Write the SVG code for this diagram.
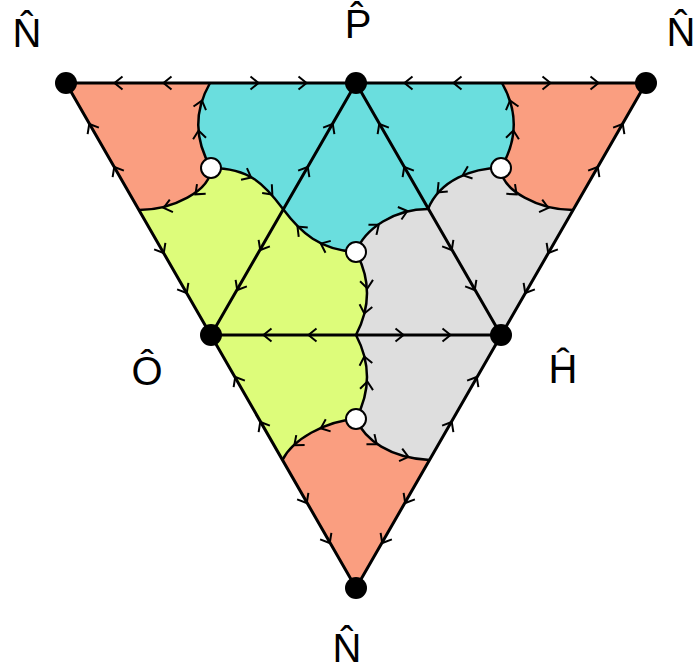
<svg xmlns="http://www.w3.org/2000/svg" xmlns:xlink="http://www.w3.org/1999/xlink" width="694" height="671" viewBox="0 0 694 671">
<style>
.salmon{fill:#FA9E80}
.cyan{fill:#6ADEDE}
.green{fill:#DDFC7A}
.gray{fill:#DEDEDE}
.edge{stroke:#000;stroke-width:3;fill:none;stroke-linecap:round}
.curve{stroke:#000;stroke-width:2.5;fill:none}
.dot{fill:#000}
.hole{fill:#fff;stroke:#000;stroke-width:2}
.lbl{font-family:"Liberation Sans",Arial,sans-serif;font-size:40px;fill:#000;text-anchor:middle}
</style>
<defs>
<path id="ar" d="M-4.5,-6.5 L3.5,0 L-4.5,6.5" fill="none" stroke="#000" stroke-width="2"/>
</defs>
<g id="regions">
<path class="salmon" d="M66,83 L210,83 Q186,125 211,168 C211,191 172,210 139,210 Z"/>
<path class="salmon" d="M646,83 L502,83 Q526,125 501,168 C501,191 540,210 573,210 Z"/>
<path class="cyan" d="M210,83 L502,83 Q526,125 501,168 C472,168 440,180 428,209 C395,209 365,228 356,252 C320,250 301,233 283,209 C265,185 250,168 211,168 Q186,125 210,83 Z"/>
<path class="green" d="M139,210 L282.5,460 C292,440 325,421 356,419 Q378,377 356,335 Q378,293 356,252 C320,250 301,233 283,209 C265,185 250,168 211,168 C211,191 172,210 139,210 Z"/>
<path class="gray" d="M573,210 L429.5,460 C390,458 365,440 356,419 Q378,377 356,335 Q378,293 356,252 C365,228 395,209 428,209 C440,180 472,168 501,168 C501,191 540,210 573,210 Z"/>
<path class="salmon" d="M282.5,460 L356,588 L429.5,460 C390,458 365,440 356,419 C325,421 292,440 282.5,460 Z"/>
</g>
<g id="connectors">
<path class="edge" d="M66,83 L646,83 L356,588 Z"/>
<path class="edge" d="M356,83 L211,335 L501,335 Z"/>
<path class="curve" d="M210,83 Q186,125 211,168"/>
<path class="curve" d="M502,83 Q526,125 501,168"/>
<path class="curve" d="M211,168 C211,191 172,210 139,210"/>
<path class="curve" d="M501,168 C501,191 540,210 573,210"/>
<path class="curve" d="M211,168 C250,168 265,185 283,209 C301,233 320,250 356,252"/>
<path class="curve" d="M501,168 C472,168 440,180 428,209"/>
<path class="curve" d="M356,252 C365,228 395,209 428,209"/>
<path class="curve" d="M356,252 Q378,293 356,335 Q378,377 356,419"/>
<path class="curve" d="M356,419 C325,421 292,440 282.5,460"/>
<path class="curve" d="M356,419 C365,440 390,458 429.5,460"/>
<g id="arrows">
<use xlink:href="#ar" transform="translate(118,83) rotate(180)"/>
<use xlink:href="#ar" transform="translate(167,83) rotate(180)"/>
<use xlink:href="#ar" transform="translate(255,83)"/>
<use xlink:href="#ar" transform="translate(303,83)"/>
<use xlink:href="#ar" transform="translate(408,83) rotate(180)"/>
<use xlink:href="#ar" transform="translate(457,83) rotate(180)"/>
<use xlink:href="#ar" transform="translate(547,83)"/>
<use xlink:href="#ar" transform="translate(595,83)"/>
<use xlink:href="#ar" transform="translate(91,127) rotate(240)"/>
<use xlink:href="#ar" transform="translate(116,170) rotate(240)"/>
<use xlink:href="#ar" transform="translate(162,250) rotate(60)"/>
<use xlink:href="#ar" transform="translate(185,290) rotate(60)"/>
<use xlink:href="#ar" transform="translate(237,380) rotate(240)"/>
<use xlink:href="#ar" transform="translate(262,425) rotate(240)"/>
<use xlink:href="#ar" transform="translate(305,500) rotate(60)"/>
<use xlink:href="#ar" transform="translate(328,540) rotate(60)"/>
<use xlink:href="#ar" transform="translate(621,127) rotate(-60)"/>
<use xlink:href="#ar" transform="translate(596,170) rotate(-60)"/>
<use xlink:href="#ar" transform="translate(550,250) rotate(120)"/>
<use xlink:href="#ar" transform="translate(527,290) rotate(120)"/>
<use xlink:href="#ar" transform="translate(475,380) rotate(-60)"/>
<use xlink:href="#ar" transform="translate(450,425) rotate(-60)"/>
<use xlink:href="#ar" transform="translate(407,500) rotate(120)"/>
<use xlink:href="#ar" transform="translate(384,540) rotate(120)"/>
<use xlink:href="#ar" transform="translate(331,127) rotate(-60)"/>
<use xlink:href="#ar" transform="translate(306,170) rotate(-60)"/>
<use xlink:href="#ar" transform="translate(262,247) rotate(120)"/>
<use xlink:href="#ar" transform="translate(239,287) rotate(120)"/>
<use xlink:href="#ar" transform="translate(381,127) rotate(240)"/>
<use xlink:href="#ar" transform="translate(406,170) rotate(240)"/>
<use xlink:href="#ar" transform="translate(450,247) rotate(60)"/>
<use xlink:href="#ar" transform="translate(473,287) rotate(60)"/>
<use xlink:href="#ar" transform="translate(267,335) rotate(180)"/>
<use xlink:href="#ar" transform="translate(312,335) rotate(180)"/>
<use xlink:href="#ar" transform="translate(400,335)"/>
<use xlink:href="#ar" transform="translate(447,335)"/>
<use xlink:href="#ar" transform="translate(201,104) rotate(-74)"/>
<use xlink:href="#ar" transform="translate(199,134) rotate(-97)"/>
<use xlink:href="#ar" transform="translate(511,104) rotate(-106)"/>
<use xlink:href="#ar" transform="translate(513,134) rotate(-83)"/>
<use xlink:href="#ar" transform="translate(198,192) rotate(138)"/>
<use xlink:href="#ar" transform="translate(167,207) rotate(166)"/>
<use xlink:href="#ar" transform="translate(514,192) rotate(42)"/>
<use xlink:href="#ar" transform="translate(545,207) rotate(14)"/>
<use xlink:href="#ar" transform="translate(248,176) rotate(27)"/>
<use xlink:href="#ar" transform="translate(270,192) rotate(48)"/>
<use xlink:href="#ar" transform="translate(300,229) rotate(-136)"/>
<use xlink:href="#ar" transform="translate(324,245) rotate(-156)"/>
<use xlink:href="#ar" transform="translate(466,174) rotate(159)"/>
<use xlink:href="#ar" transform="translate(440,190) rotate(135)"/>
<use xlink:href="#ar" transform="translate(376,227) rotate(-38)"/>
<use xlink:href="#ar" transform="translate(404,212) rotate(-16)"/>
<use xlink:href="#ar" transform="translate(367,285) rotate(84)"/>
<use xlink:href="#ar" transform="translate(365,310) rotate(102)"/>
<use xlink:href="#ar" transform="translate(365,360) rotate(-102)"/>
<use xlink:href="#ar" transform="translate(367,385) rotate(-84)"/>
<use xlink:href="#ar" transform="translate(324,427) rotate(158)"/>
<use xlink:href="#ar" transform="translate(297,443) rotate(140)"/>
<use xlink:href="#ar" transform="translate(374,442) rotate(38)"/>
<use xlink:href="#ar" transform="translate(405,456) rotate(14)"/>
</g>
</g>
<g id="node-N-topleft"><circle class="dot" cx="66" cy="83" r="11"/><text class="lbl" x="27" y="47">N̂</text></g>
<g id="node-P"><circle class="dot" cx="356" cy="83" r="11"/><text class="lbl" x="358" y="38">P̂</text></g>
<g id="node-N-topright"><circle class="dot" cx="646" cy="83" r="11"/><text class="lbl" x="681" y="46">N̂</text></g>
<g id="node-O"><circle class="dot" cx="211" cy="335" r="11"/><text class="lbl" x="147" y="385">Ô</text></g>
<g id="node-H"><circle class="dot" cx="501" cy="335" r="11"/><text class="lbl" x="563" y="383">Ĥ</text></g>
<g id="node-N-bottom"><circle class="dot" cx="356" cy="588" r="11"/><text class="lbl" x="347" y="662">N̂</text></g>
<g id="node-s1"><circle class="hole" cx="211" cy="168" r="10"/></g>
<g id="node-s2"><circle class="hole" cx="501" cy="168" r="10"/></g>
<g id="node-s3"><circle class="hole" cx="356" cy="252" r="10"/></g>
<g id="node-s4"><circle class="hole" cx="356" cy="419" r="10"/></g>
</svg>
